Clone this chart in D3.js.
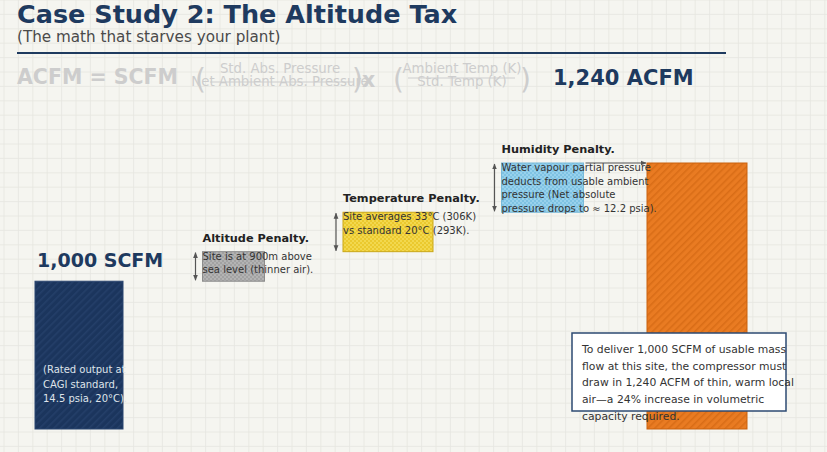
<!DOCTYPE html>
<html lang="en">
<head>
    <meta charset="UTF-8">
    <script src="https://cdn.jsdelivr.net/npm/d3@7"></script>
    <title>Case Study 2: The Altitude Tax</title>
    <style>
        body { margin: 0; background: #f5f5f0; }
        svg { display: block; font-family: "DejaVu Sans", sans-serif; }
    </style>
</head>
<body>
    <script>
        // waterfall data: rated flow, three penalties, actual intake
        var categories = ["Rated", "Altitude", "Temperature", "Humidity", "Actual"];
        var values = [1000, 60, 80, 100, 1240];
        var isTotal = [true, false, false, false, true];
        var headings = ["1,000 SCFM", "Altitude Penalty.", "Temperature Penalty.", "Humidity Penalty.", ""];
        var notes = [
            ["(Rated output at", "CAGI standard,", "14.5 psia, 20°C)."],
            ["Site is at 900m above", "sea level (thinner air)."],
            ["Site averages 33°C (306K)", "vs standard 20°C (293K)."],
            ["Water vapour partial pressure", "deducts from usable ambient", "pressure (Net absolute", "pressure drops to ≈ 12.2 psia)."],
            []
        ];
        var calloutLines = [
            "To deliver 1,000 SCFM of usable mass",
            "flow at this site, the compressor must",
            "draw in 1,240 ACFM of thin, warm local",
            "air—a 24% increase in volumetric",
            "capacity required."
        ];
        var fracPressure = ["Std. Abs. Pressure", "Net Ambient Abs. Pressure"];
        var fracTemp = ["Ambient Temp (K)", "Std. Temp (K)"];

        var width = 827, height = 452;
        var navy = "#1e3a5f";
        var faint = "#cdcdcd";

        // per-bar look
        var barStyle = {
            Rated: { w: 88, fill: "url(#stripeNavy)", stroke: "#2b4670" },
            Altitude: { w: 62, fill: "url(#checkGray)", stroke: "#8c8c8c" },
            Temperature: { w: 90, fill: "url(#checkYellow)", stroke: "#c9a717" },
            Humidity: { w: 82, fill: "url(#checkBlue)", stroke: "#79b9d8" },
            Actual: { w: 100, fill: "url(#stripeOrange)", stroke: "#c9620f" }
        };

        var svg = d3.select("body").append("svg").attr("width", width).attr("height", height);
        var defs = svg.append("defs");

        function stripe(id, base, line) {
            var p = defs.append("pattern").attr("id", id).attr("patternUnits", "userSpaceOnUse")
                .attr("width", 5).attr("height", 5).attr("patternTransform", "rotate(45)");
            p.append("rect").attr("width", 5).attr("height", 5).attr("fill", base);
            p.append("rect").attr("width", 1.6).attr("height", 5).attr("fill", line);
        }
        function checker(id, a, b) {
            var p = defs.append("pattern").attr("id", id).attr("patternUnits", "userSpaceOnUse")
                .attr("width", 4).attr("height", 4);
            p.append("rect").attr("width", 4).attr("height", 4).attr("fill", a);
            p.append("rect").attr("width", 2).attr("height", 2).attr("fill", b);
            p.append("rect").attr("x", 2).attr("y", 2).attr("width", 2).attr("height", 2).attr("fill", b);
        }
        stripe("stripeNavy", "#1b355d", "#243f69");
        stripe("stripeOrange", "#e97b22", "#d96d17");
        checker("checkGray", "#a2a2a2", "#b3b3b3");
        checker("checkYellow", "#ebc92e", "#f2d84e");
        checker("checkBlue", "#7fc3e3", "#98d1ec");

        defs.append("marker").attr("id", "head").attr("viewBox", "0 0 10 10")
            .attr("refX", 9).attr("refY", 5).attr("markerWidth", 5).attr("markerHeight", 5)
            .attr("orient", "auto-start-reverse")
            .append("path").attr("d", "M0,1 L10,5 L0,9 z").attr("fill", "#555");

        // background grid
        var grid = svg.append("g");
        grid.append("rect").attr("width", width).attr("height", height).attr("fill", "#f5f5f0");
        grid.selectAll("line.v").data(d3.range(4, width, 14.4)).enter().append("line")
            .attr("x1", function (d) { return d; }).attr("x2", function (d) { return d; })
            .attr("y1", 0).attr("y2", height).attr("stroke", "#e6e6e0").attr("stroke-width", 0.8);
        grid.selectAll("line.h").data(d3.range(0, height, 14.4)).enter().append("line")
            .attr("y1", function (d) { return d; }).attr("y2", function (d) { return d; })
            .attr("x1", 0).attr("x2", width).attr("stroke", "#e6e6e0").attr("stroke-width", 0.8);

        // header
        svg.append("text").attr("x", 17).attr("y", 23).text("Case Study 2: The Altitude Tax")
            .attr("font-size", 25.5).attr("font-weight", "bold").attr("fill", navy);
        svg.append("text").attr("x", 17).attr("y", 42).text("(The math that starves your plant)")
            .attr("font-size", 15.2).attr("fill", "#4a4a4a");
        svg.append("line").attr("x1", 17).attr("x2", 726).attr("y1", 53).attr("y2", 53)
            .attr("stroke", navy).attr("stroke-width", 2);

        // formula line
        var f = svg.append("g").attr("fill", faint);
        f.append("text").attr("x", 17).attr("y", 84).text("ACFM = SCFM")
            .attr("font-size", 20.5).attr("font-weight", "bold");
        function fraction(cx, lines, barY, x1, x2) {
            f.append("text").attr("x", cx).attr("y", 73).attr("text-anchor", "middle")
                .attr("font-size", 13.3).text(lines[0]);
            f.append("text").attr("x", cx).attr("y", 86).attr("text-anchor", "middle")
                .attr("font-size", 13.3).text(lines[1]);
            f.append("line").attr("x1", x1).attr("x2", x2).attr("y1", barY).attr("y2", barY)
                .attr("stroke", faint).attr("stroke-width", 1.2);
        }
        function paren(x, ch) {
            f.append("text").attr("x", x).attr("y", 89).attr("font-size", 28).text(ch);
        }
        fraction(280, fracPressure, 82, 210, 354);
        paren(195, "(");
        paren(352, ")");
        f.append("text").attr("x", 362).attr("y", 87).attr("font-size", 20.5)
            .attr("font-weight", "bold").text("x");
        fraction(462, fracTemp, 78, 408, 515);
        paren(393, "(");
        paren(520, ")");
        svg.append("text").attr("x", 553).attr("y", 85).text("1,240 ACFM")
            .attr("font-size", 21).attr("font-weight", "bold").attr("fill", navy);

        // waterfall layout
        var run = 0;
        var bars = categories.map(function (c, i) {
            var start, end;
            if (isTotal[i]) { start = null; end = values[i]; }
            else { start = run; end = run + values[i]; }
            run = end;
            return { cat: c, start: start, end: end, total: isTotal[i], heading: headings[i], notes: notes[i] };
        });

        var yMin = 700;
        var y = d3.scaleLinear().domain([yMin, 1240]).range([429, 163]);
        var x = d3.scalePoint().domain(categories).range([79, 697]);

        function left(d) { return x(d.cat) - barStyle[d.cat].w / 2; }
        function bottom(d) { return y(d.total ? yMin : d.start); }

        svg.selectAll("rect.bar").data(bars).enter().append("rect").attr("class", "bar")
            .attr("x", left)
            .attr("y", function (d) { return y(d.end); })
            .attr("width", function (d) { return barStyle[d.cat].w; })
            .attr("height", function (d) { return bottom(d) - y(d.end); })
            .attr("fill", function (d) { return barStyle[d.cat].fill; })
            .attr("stroke", function (d) { return barStyle[d.cat].stroke; })
            .attr("stroke-width", 1);

        var steps = bars.filter(function (d) { return !d.total; });

        // vertical size arrows beside each penalty
        svg.selectAll("line.gap").data(steps).enter().append("line")
            .attr("x1", function (d) { return left(d) - 7; })
            .attr("x2", function (d) { return left(d) - 7; })
            .attr("y1", function (d) { return y(d.end) + 1; })
            .attr("y2", function (d) { return y(d.start) - 1; })
            .attr("stroke", "#555").attr("stroke-width", 1.2)
            .attr("marker-start", "url(#head)").attr("marker-end", "url(#head)");

        svg.selectAll("text.head").data(steps).enter().append("text")
            .attr("x", left).attr("y", function (d) { return y(d.end) - 10; })
            .attr("font-size", 11.3).attr("font-weight", "bold").attr("fill", "#222")
            .text(function (d) { return d.heading; });

        steps.forEach(function (d) {
            svg.append("text").attr("fill", "#333").attr("font-size", 10)
                .selectAll("tspan").data(d.notes).enter().append("tspan")
                .attr("x", left(d))
                .attr("y", function (t, i) { return y(d.end) + 8 + i * 13.6; })
                .text(function (t) { return t; });
        });

        // rated bar label and inner note
        var rated = bars[0];
        svg.append("text").attr("x", left(rated) + 2).attr("y", y(rated.end) - 14)
            .attr("font-size", 19).attr("font-weight", "bold").attr("fill", navy).text(rated.heading);
        svg.append("text").attr("fill", "#dfe4ea").attr("font-size", 10)
            .selectAll("tspan").data(rated.notes).enter().append("tspan")
            .attr("x", left(rated) + 8)
            .attr("y", function (t, i) { return bottom(rated) - 56 + i * 14.6; })
            .text(function (t) { return t; });

        // arrow from last penalty to the actual bar
        var hum = bars[3], act = bars[4];
        svg.append("line")
            .attr("x1", left(hum) + barStyle[hum.cat].w + 2).attr("x2", left(act) - 1)
            .attr("y1", y(hum.end)).attr("y2", y(hum.end))
            .attr("stroke", "#555").attr("stroke-width", 1.2).attr("marker-end", "url(#head)");

        // callout box, pinned near the lower right of the frame
        var bx = 572, by = 333;
        svg.append("rect").attr("x", bx).attr("y", by).attr("width", 214).attr("height", 78)
            .attr("fill", "#fff").attr("stroke", "#2d4a72").attr("stroke-width", 1.5);
        svg.append("text").attr("fill", "#333").attr("font-size", 10.8)
            .selectAll("tspan").data(calloutLines).enter().append("tspan")
            .attr("x", bx + 10)
            .attr("y", function (t, i) { return by + 20 + i * 16.7; })
            .text(function (t) { return t; });
    </script>
</body>
</html>
